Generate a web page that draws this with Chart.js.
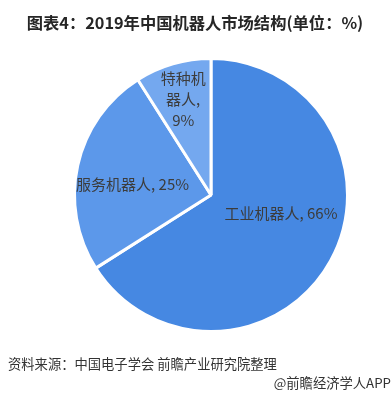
<!DOCTYPE html>
<html>
<head>
<meta charset="utf-8">
<script src="https://cdn.jsdelivr.net/npm/chart.js@4"></script>
<style>
  html, body { margin: 0; padding: 0; background: #fff; }
  #wrap { position: relative; width: 391px; height: 397px; }
</style>
</head>
<body>
<div id="wrap"><canvas id="pie" width="391" height="397"></canvas></div>
<script>
// chart data
const categories = ['工业机器人', '服务机器人', '特种机器人'];
const shares = [66, 25, 9];
const labelLines = [['工业机器人, 66%'], ['服务机器人, 25%'], ['特种机', '器人,', '9%']];

const titleText = '图表4：2019年中国机器人市场结构(单位：%)';
const sourceText = '资料来源：中国电子学会 前瞻产业研究院整理';
const brandText = '@前瞻经济学人APP';

const FONT = '"Noto Sans CJK SC", "Noto Sans", sans-serif';

// where each label sits inside its slice: angle shift (deg) and radius fraction
const labelPlace = [
  { shift: -14, frac: 0.53 },
  { shift: -5, frac: 0.58 },
  { shift: 0, frac: 0.73 }
];

const textPlugin = {
  id: 'texts',
  afterDatasetsDraw(chart) {
    const ctx = chart.ctx;
    const meta = chart.getDatasetMeta(0);
    ctx.save();
    ctx.fillStyle = '#3c3c3c';
    ctx.font = '15px ' + FONT;
    ctx.textAlign = 'center';
    ctx.textBaseline = 'middle';
    meta.data.forEach((arc, i) => {
      const p = arc.getProps(['x', 'y', 'startAngle', 'endAngle', 'outerRadius']);
      const mid = (p.startAngle + p.endAngle) / 2 + labelPlace[i].shift * Math.PI / 180;
      const r = p.outerRadius * labelPlace[i].frac;
      const cx = p.x + Math.cos(mid) * r;
      const cy = p.y + Math.sin(mid) * r;
      const lines = labelLines[i];
      const lh = 21;
      lines.forEach((t, k) => {
        ctx.fillText(t, cx, cy + (k - (lines.length - 1) / 2) * lh);
      });
    });

    // title
    ctx.fillStyle = '#262626';
    ctx.font = 'bold 16.3px ' + FONT;
    ctx.fillText(titleText, 195, 23);

    // source + brand
    ctx.fillStyle = '#333';
    ctx.font = '13.3px ' + FONT;
    ctx.textAlign = 'left';
    ctx.fillText(sourceText, 8, 364);
    ctx.textAlign = 'right';
    ctx.fillText(brandText, 391, 383);
    ctx.restore();
  }
};

new Chart(document.getElementById('pie'), {
  type: 'pie',
  data: {
    labels: categories,
    datasets: [{
      data: shares,
      backgroundColor: ['#4688e2', '#5c98ea', '#74a8ef'],
      borderColor: '#ffffff',
      borderWidth: 3
    }]
  },
  options: {
    responsive: false,
    animation: false,
    rotation: 0,
    layout: { padding: { left: 73, right: 42, top: 57, bottom: 64 } },
    plugins: {
      legend: { display: false },
      tooltip: { enabled: false },
      title: { display: false }
    }
  },
  plugins: [textPlugin]
});
</script>
</body>
</html>
